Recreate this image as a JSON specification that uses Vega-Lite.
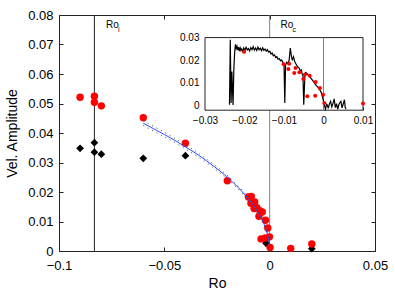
{
  "$schema": "https://vega.github.io/schema/vega-lite/v6.json",
  "width": 316,
  "height": 236,
  "autosize": {"type": "none"},
  "padding": {"left": 59, "top": 15, "right": 20, "bottom": 45},
  "config": {
    "view": {"stroke": null},
    "font": "Liberation Sans",
    "axis": {
      "labelFont": "Liberation Sans", "titleFont": "Liberation Sans",
      "labelColor": "#000", "titleColor": "#000",
      "domainColor": "#222", "tickColor": "#222",
      "grid": false, "labelFontSize": 13, "titleFontSize": 14, "titleFontWeight": "normal",
      "labelFlush": false, "labelOverlap": false, "labelBound": false
    }
  },
  "datasets": {
    "vlines": [{"ro": -0.0832, "name": "Ro_i"}, {"ro": 0, "name": "Ro_c"}],
    "frame": [{"x0": -0.03, "x1": 0.01, "y0": -0.002, "y1": 0.03}],
    "insetline": [{"ro": 0, "y0": -0.002, "y1": 0.03}],
    "red": [
      {"ro": -0.090, "amp": 0.0521}, {"ro": -0.0832, "amp": 0.0525}, {"ro": -0.0832, "amp": 0.0504},
      {"ro": -0.0799, "amp": 0.0492}, {"ro": -0.060, "amp": 0.0452}, {"ro": -0.040, "amp": 0.0365},
      {"ro": -0.0201, "amp": 0.0238}, {"ro": -0.0101, "amp": 0.0183}, {"ro": -0.0089, "amp": 0.0162},
      {"ro": -0.0087, "amp": 0.0185}, {"ro": -0.0074, "amp": 0.0144}, {"ro": -0.0071, "amp": 0.0166},
      {"ro": -0.0061, "amp": 0.0147}, {"ro": -0.0051, "amp": 0.0118}, {"ro": -0.0047, "amp": 0.0137},
      {"ro": -0.0035, "amp": 0.0132}, {"ro": -0.0020, "amp": 0.0104}, {"ro": -0.0009, "amp": 0.0078},
      {"ro": -0.0001, "amp": 0.0048}, {"ro": -0.0021, "amp": 0.0044}, {"ro": -0.0041, "amp": 0.0041},
      {"ro": 0.0002, "amp": 0.0012}, {"ro": 0.0100, "amp": 0.0009}, {"ro": 0.0200, "amp": 0.0024}
    ],
    "black": [
      {"ro": -0.090, "amp": 0.0348}, {"ro": -0.0832, "amp": 0.0367}, {"ro": -0.0832, "amp": 0.0335},
      {"ro": -0.0799, "amp": 0.0328}, {"ro": -0.060, "amp": 0.0314}, {"ro": -0.040, "amp": 0.0323},
      {"ro": -0.0017, "amp": 0.0026}, {"ro": 0.020, "amp": 0.0008}
    ],
    "fit": [
      {"ro": -0.060, "amp": 0.0433, "lo": 0.0425, "hi": 0.0441},
      {"ro": -0.055, "amp": 0.0414, "lo": 0.0406, "hi": 0.0422},
      {"ro": -0.050, "amp": 0.0395, "lo": 0.0387, "hi": 0.0403},
      {"ro": -0.045, "amp": 0.0375, "lo": 0.0368, "hi": 0.0382},
      {"ro": -0.040, "amp": 0.0353, "lo": 0.0346, "hi": 0.0360},
      {"ro": -0.035, "amp": 0.0331, "lo": 0.0324, "hi": 0.0338},
      {"ro": -0.030, "amp": 0.0306, "lo": 0.0300, "hi": 0.0312},
      {"ro": -0.025, "amp": 0.0279, "lo": 0.0273, "hi": 0.0285},
      {"ro": -0.020, "amp": 0.0250, "lo": 0.0244, "hi": 0.0256},
      {"ro": -0.015, "amp": 0.0216, "lo": 0.0211, "hi": 0.0221},
      {"ro": -0.010, "amp": 0.0177, "lo": 0.0172, "hi": 0.0182},
      {"ro": -0.007, "amp": 0.0148, "lo": 0.0144, "hi": 0.0152},
      {"ro": -0.005, "amp": 0.0125, "lo": 0.0121, "hi": 0.0129},
      {"ro": -0.003, "amp": 0.0097, "lo": 0.0093, "hi": 0.0101},
      {"ro": -0.002, "amp": 0.0079, "lo": 0.0075, "hi": 0.0083},
      {"ro": -0.001, "amp": 0.0056, "lo": 0.0052, "hi": 0.0060},
      {"ro": -0.0005, "amp": 0.0040, "lo": 0.0036, "hi": 0.0044},
      {"ro": -0.0002, "amp": 0.0025, "lo": 0.0021, "hi": 0.0029},
      {"ro": 0.0, "amp": 0.0, "lo": 0.0, "hi": 0.0004}
    ],
    "labels": [
      {"ro": -0.0777, "amp": 0.0756, "t": "Ro", "s": "i"},
      {"ro": 0.0052, "amp": 0.0756, "t": "Ro", "s": "c"}
    ],
    "trace": [
      {"ro": -0.0238, "amp": 0.0004}, {"ro": -0.0236, "amp": 0.0291}, {"ro": -0.0234, "amp": 0.0012},
      {"ro": -0.0232, "amp": 0.0150}, {"ro": -0.0229, "amp": 0.0003}, {"ro": -0.0227, "amp": 0.0160},
      {"ro": -0.0225, "amp": 0.0232}, {"ro": -0.0223, "amp": 0.0270}, {"ro": -0.0221, "amp": 0.0252},
      {"ro": -0.0219, "amp": 0.0262}, {"ro": -0.0217, "amp": 0.0245}, {"ro": -0.0215, "amp": 0.0258},
      {"ro": -0.0213, "amp": 0.0240}, {"ro": -0.0211, "amp": 0.0255}, {"ro": -0.0209, "amp": 0.0243},
      {"ro": -0.0207, "amp": 0.0250}, {"ro": -0.0204, "amp": 0.0238}, {"ro": -0.0202, "amp": 0.0254},
      {"ro": -0.0199, "amp": 0.0244}, {"ro": -0.0196, "amp": 0.0257}, {"ro": -0.0193, "amp": 0.0246},
      {"ro": -0.0190, "amp": 0.0252}, {"ro": -0.0187, "amp": 0.0241}, {"ro": -0.0184, "amp": 0.0256},
      {"ro": -0.0181, "amp": 0.0247}, {"ro": -0.0178, "amp": 0.0260}, {"ro": -0.0175, "amp": 0.0245},
      {"ro": -0.0172, "amp": 0.0254}, {"ro": -0.0169, "amp": 0.0243}, {"ro": -0.0166, "amp": 0.0258},
      {"ro": -0.0163, "amp": 0.0246}, {"ro": -0.0160, "amp": 0.0253}, {"ro": -0.0157, "amp": 0.0242},
      {"ro": -0.0154, "amp": 0.0255}, {"ro": -0.0151, "amp": 0.0244}, {"ro": -0.0148, "amp": 0.0250},
      {"ro": -0.0145, "amp": 0.0240}, {"ro": -0.0142, "amp": 0.0247}, {"ro": -0.0139, "amp": 0.0236},
      {"ro": -0.0136, "amp": 0.0240}, {"ro": -0.0133, "amp": 0.0228}, {"ro": -0.0130, "amp": 0.0232},
      {"ro": -0.0127, "amp": 0.0220}, {"ro": -0.0124, "amp": 0.0224}, {"ro": -0.0121, "amp": 0.0212},
      {"ro": -0.0118, "amp": 0.0216}, {"ro": -0.0115, "amp": 0.0205}, {"ro": -0.0112, "amp": 0.0208},
      {"ro": -0.0109, "amp": 0.0198}, {"ro": -0.0106, "amp": 0.0202}, {"ro": -0.0103, "amp": 0.0190},
      {"ro": -0.0100, "amp": 0.0186}, {"ro": -0.0098, "amp": 0.0012}, {"ro": -0.0096, "amp": 0.0180},
      {"ro": -0.0093, "amp": 0.0192}, {"ro": -0.0090, "amp": 0.0185}, {"ro": -0.0087, "amp": 0.0200},
      {"ro": -0.0084, "amp": 0.0254}, {"ro": -0.0081, "amp": 0.0215}, {"ro": -0.0079, "amp": 0.0203},
      {"ro": -0.0076, "amp": 0.0216}, {"ro": -0.0073, "amp": 0.0195}, {"ro": -0.0071, "amp": 0.0188},
      {"ro": -0.0068, "amp": 0.0178}, {"ro": -0.0065, "amp": 0.0170}, {"ro": -0.0062, "amp": 0.0166},
      {"ro": -0.0059, "amp": 0.0155}, {"ro": -0.0056, "amp": 0.0158}, {"ro": -0.0054, "amp": 0.0140},
      {"ro": -0.0052, "amp": 0.0132}, {"ro": -0.0050, "amp": 0.0004}, {"ro": -0.0047, "amp": 0.0138},
      {"ro": -0.0045, "amp": 0.0146}, {"ro": -0.0042, "amp": 0.0142}, {"ro": -0.0039, "amp": 0.0136},
      {"ro": -0.0036, "amp": 0.0130}, {"ro": -0.0033, "amp": 0.0124}, {"ro": -0.0030, "amp": 0.0117},
      {"ro": -0.0027, "amp": 0.0110}, {"ro": -0.0024, "amp": 0.0103}, {"ro": -0.0021, "amp": 0.0095},
      {"ro": -0.0018, "amp": 0.0088}, {"ro": -0.0015, "amp": 0.0083}, {"ro": -0.0012, "amp": 0.0076},
      {"ro": -0.0009, "amp": 0.0068}, {"ro": -0.0006, "amp": 0.0060}, {"ro": -0.0003, "amp": 0.0042},
      {"ro": 0.0000, "amp": 0.0020}, {"ro": 0.0002, "amp": 0.0004}, {"ro": 0.0005, "amp": -0.0015},
      {"ro": 0.0008, "amp": 0.0006}, {"ro": 0.0010, "amp": 0.0002}, {"ro": 0.0012, "amp": -0.0012},
      {"ro": 0.0015, "amp": 0.0008}, {"ro": 0.0018, "amp": 0.0019}, {"ro": 0.0021, "amp": -0.0005},
      {"ro": 0.0024, "amp": 0.0010}, {"ro": 0.0027, "amp": 0.0030}, {"ro": 0.0030, "amp": -0.0009},
      {"ro": 0.0033, "amp": 0.0009}, {"ro": 0.0036, "amp": -0.0015}, {"ro": 0.0039, "amp": 0.0005},
      {"ro": 0.0042, "amp": 0.0015}, {"ro": 0.0044, "amp": 0.0019}, {"ro": 0.0047, "amp": -0.0010},
      {"ro": 0.0050, "amp": 0.0008}, {"ro": 0.0053, "amp": 0.0026}, {"ro": 0.0055, "amp": -0.0008},
      {"ro": 0.0057, "amp": -0.0015}
    ]
  },
  "layer": [
    {
      "data": {"name": "vlines"},
      "mark": {"type": "rule", "strokeWidth": 1},
      "encoding": {
        "x": {"field": "ro", "type": "quantitative",
              "scale": {"domain": [-0.1, 0.05], "nice": false, "zero": false},
              "axis": {"orient": "top", "labels": false, "values": [-0.1, -0.05, 0, 0.05], "tickSize": -4, "title": null}},
        "y": {"datum": 0, "type": "quantitative",
              "scale": {"domain": [0, 0.08], "nice": false},
              "axis": {"orient": "right", "labels": false, "values": [0, 0.01, 0.02, 0.03, 0.04, 0.05, 0.06, 0.07, 0.08], "tickSize": -4, "title": null}},
        "y2": {"datum": 0.08},
        "color": {"field": "name", "type": "nominal",
                  "scale": {"domain": ["Ro_i", "Ro_c"], "range": ["#222222", "#808080"]}, "legend": null}
      }
    },
    {
      "encoding": {
        "x": {"field": "ro", "type": "quantitative",
              "scale": {"domain": [-0.1, 0.05], "nice": false, "zero": false},
              "axis": {"orient": "bottom", "values": [-0.1, -0.05, 0, 0.05], "format": ".2~f", "tickSize": -4, "labelPadding": 12, "title": "Ro", "titlePadding": 4}},
        "y": {"field": "amp", "type": "quantitative",
              "scale": {"domain": [0, 0.08], "nice": false},
              "axis": {"orient": "left", "values": [0, 0.01, 0.02, 0.03, 0.04, 0.05, 0.06, 0.07, 0.08], "format": ".2~f", "tickSize": -4, "labelPadding": 10, "title": "Vel. Amplitude", "titlePadding": 8}}
      },
      "layer": [
        {"data": {"name": "black"}, "mark": {"type": "point", "shape": "diamond", "filled": true, "color": "#000", "size": 60, "opacity": 1}},
        {"data": {"name": "red"}, "mark": {"type": "circle", "color": "#ff0000", "size": 55, "opacity": 1}},
        {"data": {"name": "fit"}, "mark": {"type": "line", "color": "#2850ff", "strokeWidth": 1}},
        {"data": {"name": "fit"}, "mark": {"type": "line", "color": "#444", "strokeWidth": 1, "strokeDash": [1, 4]}, "encoding": {"y": {"field": "hi", "type": "quantitative"}}},
        {"data": {"name": "fit"}, "mark": {"type": "line", "color": "#444", "strokeWidth": 1, "strokeDash": [1, 4]}, "encoding": {"y": {"field": "lo", "type": "quantitative"}}},
        {"data": {"name": "labels"}, "mark": {"type": "text", "align": "left", "baseline": "alphabetic", "fontSize": 10, "font": "Liberation Sans", "color": "#000"}, "encoding": {"text": {"field": "t"}}},
        {"data": {"name": "labels"}, "mark": {"type": "text", "align": "left", "baseline": "alphabetic", "fontSize": 7, "font": "Liberation Sans", "color": "#000", "dx": 12, "dy": 4}, "encoding": {"text": {"field": "s"}}}
      ]
    },
    {
      "encoding": {
        "x": {"field": "ro", "type": "quantitative",
              "scale": {"domain": [-0.03, 0.01], "range": [146, 304], "nice": false, "zero": false},
              "axis": {"orient": "bottom", "offset": -141, "values": [-0.03, -0.02, -0.01, 0, 0.01], "format": ".2~f", "tickSize": -3, "labelPadding": 8, "labelFontSize": 10, "domain": false, "title": null}},
        "y": {"field": "amp", "type": "quantitative",
              "scale": {"domain": [-0.002, 0.03], "range": [95.2, 22.6], "nice": false, "zero": false},
              "axis": {"orient": "left", "offset": -146, "values": [0, 0.01, 0.02, 0.03], "format": ".2~f", "tickSize": -3, "labelPadding": 9, "labelFontSize": 10, "domain": false, "title": null}}
      },
      "layer": [
        {"data": {"name": "frame"}, "mark": {"type": "rect", "fill": "#ffffff", "stroke": "#222222", "strokeWidth": 1},
         "encoding": {"x": {"field": "x0", "type": "quantitative"}, "x2": {"field": "x1"}, "y": {"field": "y0", "type": "quantitative"}, "y2": {"field": "y1"}}},
        {"data": {"name": "insetline"}, "mark": {"type": "rule", "color": "#808080", "strokeWidth": 1},
         "encoding": {"y": {"field": "y0", "type": "quantitative"}, "y2": {"field": "y1"}}},
        {"data": {"name": "trace"}, "mark": {"type": "line", "color": "#000", "strokeWidth": 1.2}},
        {"data": {"name": "red"}, "transform": [{"filter": "datum.ro >= -0.03 && datum.ro <= 0.01"}], "mark": {"type": "circle", "color": "#ff0000", "size": 16, "opacity": 1}}
      ]
    }
  ],
  "resolve": {"scale": {"x": "independent", "y": "independent"}}
}
